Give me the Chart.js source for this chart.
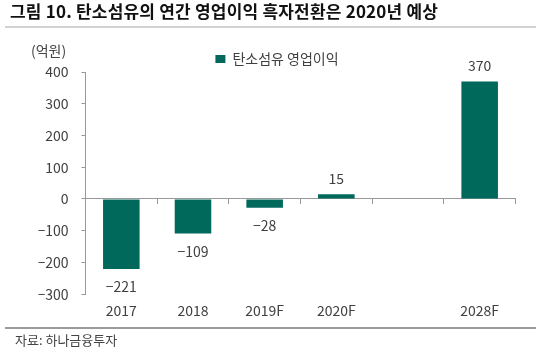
<!DOCTYPE html>
<html>
<head>
<meta charset="utf-8">
<script src="https://cdn.jsdelivr.net/npm/chart.js@4"></script>
<style>
  html, body { margin: 0; padding: 0; background: #fff; }
  body { width: 540px; height: 354px; position: relative; overflow: hidden;
         font-family: "Noto Sans CJK KR", sans-serif; }
  #title { position: absolute; left: 10px; top: 1px; font-size: 17px; font-weight: bold;
           letter-spacing: 0.2px; color: #111; line-height: 20px; white-space: nowrap; }
  #unit { position: absolute; left: 31px; top: 41px; font-size: 14px; color: #444; line-height: 18px; }
  #source { position: absolute; left: 15px; top: 331px; font-size: 13px; color: #444; line-height: 18px; white-space: nowrap; }
  #wrap { position: absolute; left: 0; top: 0; width: 540px; height: 354px; }
</style>
</head>
<body>
<div id="wrap"><canvas id="profitChart"></canvas></div>
<div id="title">그림 10. 탄소섬유의 연간 영업이익 흑자전환은 2020년 예상</div>
<div id="unit">(억원)</div>
<div id="source">자료: 하나금융투자</div>

<script>
// ---------- DATA ----------
const years = ["2017", "2018", "2019F", "2020F", "", "2028F"];
const operatingProfit = [-221, -109, -28, 15, null, 370];
const seriesName = "탄소섬유 영업이익";
const yMin = -300, yMax = 400, yStep = 100;

const barColor = "#00695C";
const axisColor = "#999";
const textColor = "#404040";

Chart.defaults.font.family = "'Noto Sans CJK KR', sans-serif";
Chart.defaults.color = textColor;

// minus sign like the source
const fmt = v => (v < 0 ? "\u2212" + Math.abs(v) : String(v));

// grey rules under the heading and above the source line
const pageRules = {
    id: "pageRules",
    beforeDraw(chart) {
        const ctx = chart.ctx;
        ctx.save();
        ctx.fillStyle = "#d2d2d2";
        ctx.fillRect(5, 26, 531, 2);
        ctx.fillStyle = "#9a9a9a";
        ctx.fillRect(5, 327, 531, 2);
        ctx.restore();
    }
};

// value labels above / below each bar
const valueLabels = {
    id: "valueLabels",
    afterDatasetsDraw(chart) {
        const ctx = chart.ctx;
        const meta = chart.getDatasetMeta(0);
        ctx.save();
        ctx.font = "14px 'Noto Sans CJK KR', sans-serif";
        ctx.fillStyle = textColor;
        ctx.textAlign = "center";
        ctx.textBaseline = "middle";
        meta.data.forEach((bar, i) => {
            const v = operatingProfit[i];
            if (v === null) return;
            const y = v < 0 ? bar.y + 18 : bar.y - 16;
            ctx.fillText(fmt(v), bar.x, y);
        });
        ctx.restore();
    }
};

// legend sits a bit closer to the plot than chart.js leaves by default
const tightLegend = {
    id: "tightLegend",
    beforeInit(chart) {
        if (!chart.legend) return;
        const origFit = chart.legend.fit;
        chart.legend.fit = function () {
            origFit.call(this);
            this.height -= 4;
        };
    }
};

new Chart(document.getElementById("profitChart"), {
    type: "bar",
    data: {
        labels: years,
        datasets: [{
            label: seriesName,
            data: operatingProfit,
            backgroundColor: barColor,
            borderWidth: 0,
            barPercentage: 0.51,
            categoryPercentage: 1.0
        }]
    },
    options: {
        responsive: true,
        maintainAspectRatio: false,
        animation: false,
        layout: { padding: { left: 38.5, right: 24.5, top: 44, bottom: 35 } },
        scales: {
            x: {
                grid: { display: false },
                border: { display: false },
                ticks: { padding: 0, color: textColor, font: { size: 14 } }
            },
            // zero line with the category tick marks
            x0: {
                type: "category",
                position: { y: 0 },
                offset: true,
                ticks: { display: false },
                grid: { offset: true, drawOnChartArea: false, tickLength: 5, color: axisColor },
                border: { display: true, color: axisColor }
            },
            y: {
                min: yMin,
                max: yMax,
                afterFit: s => { s.width = 47; },
                ticks: { stepSize: yStep, padding: 13, color: textColor, font: { size: 14 }, callback: v => fmt(v) },
                grid: { drawOnChartArea: false, tickLength: 4, color: axisColor },
                border: { display: true, color: axisColor }
            }
        },
        plugins: {
            legend: {
                position: "top",
                labels: { boxWidth: 10, boxHeight: 8, padding: 8, color: textColor, font: { size: 14 } }
            },
            tooltip: { enabled: false }
        }
    },
    plugins: [pageRules, valueLabels, tightLegend]
});
</script>
</body>
</html>
